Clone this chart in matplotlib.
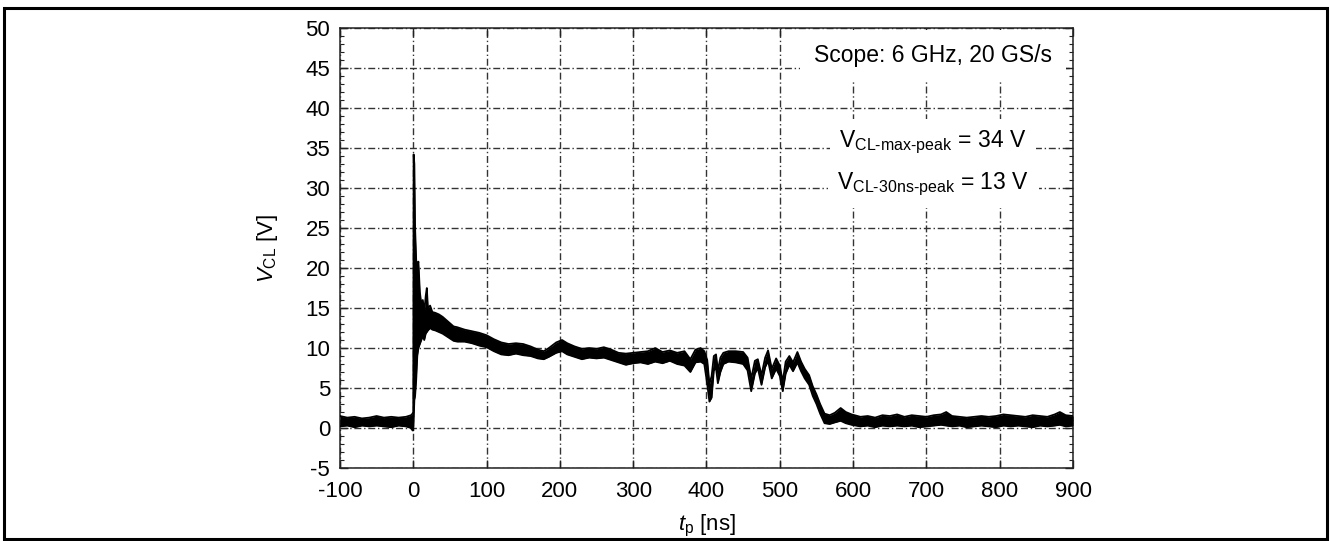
import matplotlib
matplotlib.use("Agg")
import matplotlib.pyplot as plt
from matplotlib.patches import Rectangle
from matplotlib.ticker import MultipleLocator

plt.rcParams['font.family'] = ['Liberation Sans', 'DejaVu Sans']
plt.rcParams['mathtext.fontset'] = 'custom'
plt.rcParams['mathtext.rm'] = 'Liberation Sans'
plt.rcParams['mathtext.it'] = 'Liberation Sans:italic'
plt.rcParams['axes.unicode_minus'] = False

# envelope of the scope trace (lower / upper edge)
t_ns = [-100, -90, -80, -70, -60, -50, -40, -30, -20, -10, -3, -1,
        0, 0.5, 1.5, 2.5, 4, 5.5, 7, 9, 11, 13, 15, 17, 18.5, 20, 23, 26,
        30, 35, 40, 45, 50, 55, 60, 70, 80, 90, 100, 110, 120, 130, 140,
        150, 160, 170, 178, 185, 195, 203, 210, 220, 230, 240, 250, 260,
        270, 280, 290, 300, 310, 320, 330, 340, 350, 360, 370, 378, 385,
        392, 397, 401, 404, 407, 410, 413, 415.5, 419, 423, 430, 440, 450,
        456, 461, 466, 470, 475, 480, 484, 489, 495, 500, 504, 508, 513,
        518, 524, 529, 534, 540, 545, 550, 555, 561, 568, 575, 583, 590,
        598, 610, 620, 630, 640, 650, 660, 670, 680, 690, 700, 710, 720,
        727, 735, 745, 755, 765, 775, 785, 795, 805, 815, 825, 835, 845,
        855, 865, 875, 882, 890, 900]
v_lo = [0.2, 0.3, 0.1, 0.3, 0.2, 0.3, 0.2, 0.1, 0.3, 0.2, 0.0, -0.3,
        -0.3, 1.0, 3.5, 4.0, 6.0, 9.0, 10.0, 10.5, 11.0, 11.5, 11.0, 11.8, 12.0, 12.2, 12.5, 12.3,
        12.2, 12.0, 11.8, 11.5, 11.2, 10.9, 10.8, 10.8, 10.6, 10.3, 10.1, 9.6, 9.2, 9.1, 9.3,
        9.1, 9.0, 8.7, 8.6, 8.9, 9.4, 9.6, 9.2, 8.9, 8.6, 8.8, 8.7, 8.8,
        8.5, 8.2, 7.9, 8.1, 8.2, 8.0, 8.3, 8.1, 8.4, 8.0, 7.8, 7.0, 8.2,
        8.3, 8.0, 5.5, 3.3, 3.8, 7.2, 7.5, 5.6, 7.0, 8.0, 8.3, 8.2, 8.0,
        7.2, 4.6, 6.8, 7.5, 5.4, 7.6, 8.4, 6.2, 7.4, 6.5, 4.6, 6.8, 7.9,
        7.1, 8.2, 7.1, 6.2, 5.4, 4.0, 3.0, 1.8, 0.6, 0.5, 0.7, 0.9, 0.6,
        0.4, 0.2, 0.3, 0.1, 0.3, 0.2, 0.3, 0.2, 0.3, 0.1, 0.2, 0.3, 0.4,
        0.3, 0.2, 0.3, 0.1, 0.2, 0.3, 0.2, 0.1, 0.3, 0.2, 0.3, 0.2, 0.1,
        0.3, 0.2, 0.3, 0.4, 0.2, 0.3]
v_hi = [1.5, 1.3, 1.4, 1.2, 1.3, 1.5, 1.3, 1.4, 1.3, 1.4, 1.6, 1.8,
        2.0, 34.2, 33.0, 25.0, 21.0, 20.0, 20.8, 17.0, 15.5, 16.0, 14.5, 16.5, 17.5, 15.0, 15.3, 14.5,
        14.4, 14.2, 13.9, 13.5, 13.1, 12.7, 12.6, 12.3, 12.1, 11.9, 11.6, 11.1, 10.7, 10.5, 10.6,
        10.5, 10.2, 9.8, 9.6, 10.0, 10.7, 11.0, 10.6, 10.2, 9.9, 10.0, 9.9, 10.1,
        9.8, 9.4, 9.3, 9.4, 9.5, 9.6, 10.0, 9.5, 9.7, 9.4, 9.6, 8.6, 9.8,
        10.0, 9.6, 8.5, 5.5, 6.5, 9.0, 9.2, 7.2, 8.8, 9.4, 9.6, 9.6, 9.5,
        8.8, 6.2, 8.4, 8.6, 6.6, 8.8, 9.7, 7.4, 8.7, 7.8, 5.8, 8.3, 9.0,
        8.2, 9.5, 8.3, 7.4, 6.6, 5.2, 4.2, 3.0, 1.8, 1.6, 1.9, 2.5, 2.0,
        1.7, 1.4, 1.5, 1.3, 1.6, 1.5, 1.7, 1.4, 1.6, 1.5, 1.4, 1.6, 1.7,
        2.0, 1.5, 1.4, 1.3, 1.4, 1.5, 1.4, 1.5, 1.7, 1.6, 1.5, 1.4, 1.6,
        1.5, 1.4, 1.7, 2.0, 1.6, 1.5]

labels = ['Scope: 6 GHz, 20 GS/s',
          r'V$_{\mathrm{CL}\text{-max-peak}}$ = 34 V',
          r'V$_{\mathrm{CL}\text{-30ns-peak}}$ = 13 V']

fig = plt.figure(figsize=(13.3, 5.41), dpi=100)
ax = fig.add_axes([0.2556, 0.1349, 0.5512, 0.8133])

ax.fill_between(t_ns, v_lo, v_hi, color='black', lw=0, zorder=3)
ax.plot(t_ns, v_lo, color='black', lw=1.3, zorder=3)
ax.plot(t_ns, v_hi, color='black', lw=1.3, zorder=3)

ax.set_xlim(-100, 900)
ax.set_ylim(-5, 50)
ax.xaxis.set_major_locator(MultipleLocator(100))
ax.yaxis.set_major_locator(MultipleLocator(5))
ax.yaxis.set_minor_locator(MultipleLocator(1))
ax.tick_params(which='both', direction='in', top=True, right=True,
               labelsize=16, color='#222222')
ax.tick_params(axis='x', pad=9)
ax.tick_params(axis='y', pad=7)
ax.tick_params(which='major', length=6, width=1)
ax.tick_params(which='minor', length=3, width=0.8)
ax.grid(True, which='major', color='#333333', lw=1.0,
        linestyle=(0, (5, 2, 1, 2)), zorder=1)
ax.set_axisbelow(True)
for s in ax.spines.values():
    s.set_color('#222222')
    s.set_linewidth(1.1)

ax.set_xlabel(r'$t_\mathrm{p}$ [ns]', fontsize=16, labelpad=8)
ax.set_ylabel(r'$V_\mathrm{CL}$ [V]', fontsize=16, labelpad=18)

box = dict(facecolor='white', edgecolor='none', pad=7)
ax.text(0.809, 0.9386, labels[0], transform=ax.transAxes, ha='center',
        va='center', fontsize=16.5, bbox=dict(facecolor='white', edgecolor='none', pad=10), zorder=4)
ax.text(0.809, 0.741, labels[1], transform=ax.transAxes, ha='center',
        va='center', fontsize=16.5, bbox=box, zorder=4)
ax.text(0.809, 0.645, labels[2], transform=ax.transAxes, ha='center',
        va='center', fontsize=16.5, bbox=box, zorder=4)

fig.patches.append(Rectangle((4 / 1330, 2 / 541), 1323 / 1330, 531 / 541,
                             transform=fig.transFigure, fill=False,
                             edgecolor='black', lw=2.2))

fig.savefig('out.png', dpi=100)
